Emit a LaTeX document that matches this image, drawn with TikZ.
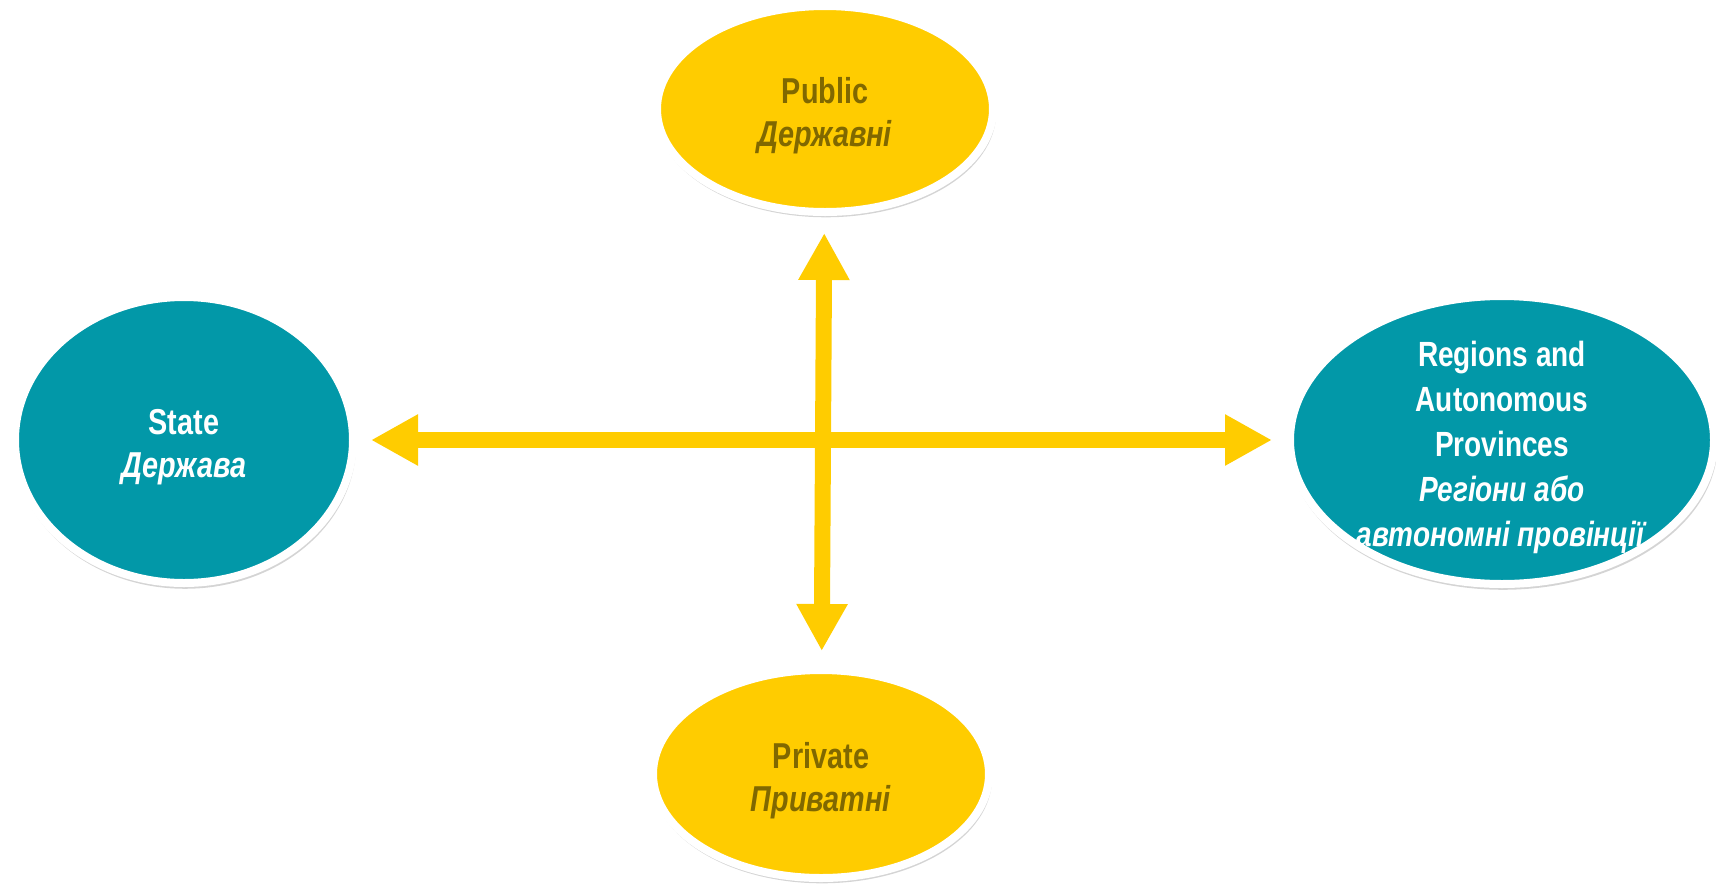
\documentclass[tikz,border=0pt]{standalone}
\usepackage{fontspec}
\setmainfont{Liberation Sans}[FakeStretch=0.8]
\usetikzlibrary{shapes.geometric,arrows.meta,shadows}
\definecolor{teal1}{RGB}{2,152,168}
\definecolor{gold1}{RGB}{255,204,0}
\definecolor{olive1}{RGB}{128,104,0}
\newcommand{\topstrut}{\rule{0pt}{40pt}}
\tikzset{
  blob/.style={ellipse, draw=white, line width=8pt, inner sep=0pt, outer sep=0pt,
    align=center, font=\bfseries,
    drop shadow={shadow scale=1.012, shadow xshift=1pt, shadow yshift=-4pt, opacity=0.28, fill=black!60}},
  yblob/.style={blob, fill=gold1, text=olive1},
  tblob/.style={blob, fill=teal1, text=white},
  biarrow/.style={draw=gold1, line width=16pt,
    {Triangle[width=48pt,length=47pt]}-{Triangle[width=48pt,length=47pt]}}
}
\begin{document}
\begin{tikzpicture}[x=1pt,y=-1pt]
\useasboundingbox (0,0) rectangle (1716,884);
\node[yblob, minimum width=336pt, minimum height=206pt,
  font=\bfseries\fontsize{36}{43}\selectfont] (public) at (825,109)
  {\topstrut Public\\\textit{Державні}};
\node[yblob, minimum width=336pt, minimum height=208pt,
  font=\bfseries\fontsize{36}{43}\selectfont] (private) at (821,774)
  {\topstrut Private\\\textit{Приватні}};
\node[tblob, minimum width=338pt, minimum height=286pt,
  font=\bfseries\fontsize{36}{43}\selectfont] (state) at (184,440)
  {\topstrut State\\\textit{Держава}};
\node[tblob, minimum width=424pt, minimum height=288pt, inner ysep=-80pt,
  font=\bfseries\fontsize{35}{45}\selectfont] (regions) at (1502,440)
  {\topstrut Regions and\\Autonomous\\Provinces\\\textit{Регіони або}\\\textit{автономні провінції}};
\draw[biarrow, shorten <=18pt, shorten >=18pt] (state) -- (regions);
\draw[biarrow, shorten <=21pt, shorten >=19pt] (public) -- (private);
\end{tikzpicture}
\end{document}
